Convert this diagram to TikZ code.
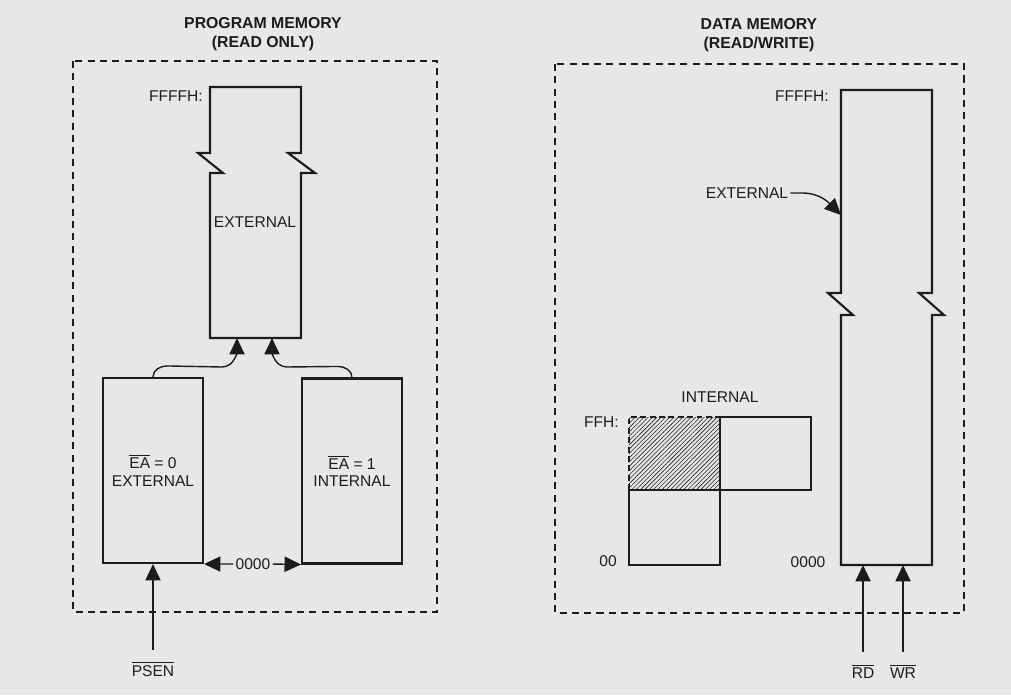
\documentclass[tikz,border=0pt]{standalone}
\usepackage{amsmath}
\usepackage{fontspec}
\setmainfont{Liberation Sans}
\usetikzlibrary{arrows.meta}
\usetikzlibrary{patterns.meta}
\usetikzlibrary{positioning}
\definecolor{paper}{RGB}{231,231,229}
\definecolor{ink}{RGB}{28,28,28}

\begin{document}
\begin{tikzpicture}[x=0.03cm, y=-0.03cm, line width=1.8pt, color=ink,
    every node/.style={font=\fontsize{13.3}{15}\selectfont, inner sep=1pt},
    title/.style={font=\bfseries\fontsize{13.5}{16}\selectfont, align=center},
    frame/.style={line width=1.2pt, dash pattern=on 6pt off 4.5pt},
    arr/.style={-{Triangle[length=14pt,width=13pt]}, line width=1.2pt},
    membox/.style={draw, line width=1.8pt, minimum width=3cm, minimum height=5.55cm, align=center}]
    \fill[paper] (0,0) rectangle (1011,695);
    \useasboundingbox (0,0) rectangle (1011,695);

    % program memory
    \node[title] (ptitle) at (263,34) {PROGRAM MEMORY\\(READ ONLY)};
    \draw[frame] (73,61) rectangle (437,612);
    \draw (210,87) -- (210,153) -- (198,153) -- (223,173) -- (210,173) -- (210,338)
        -- (301,338) -- (301,173) -- (315,173) -- (288,153) -- (301,153) -- (301,87) -- cycle;
    \node[anchor=east] (pff) at (205,96) {FFFFH:};
    \node (pext) at (255,222) {EXTERNAL};
    \coordinate (pinA) at (237,338);
    \coordinate (pinB) at (272,338);
    \node[membox] (extlo) at (153,470.5) {$\overline{\mbox{EA}}$ = 0\\EXTERNAL};
    \node[membox] (intlo) at (352,471) {$\overline{\mbox{EA}}$ = 1\\INTERNAL};
    \draw[arr] (extlo.north) to[out=90,in=180] ++(14,-11) -- (222,367) to[out=0,in=-90] (pinA);
    \draw[arr] (intlo.north) to[out=90,in=0] ++(-14,-11) -- (287,367) to[out=180,in=-90] (pinB);
    \node (pzero) at (253,564) {0000};
    \draw[arr] (pzero.west) -- (extlo.south east);
    \draw[arr] (pzero.east) -- (intlo.south west);
    \node (psen) at (153,669) {$\overline{\mbox{PSEN}}$};
    \draw[arr] ([yshift=0.3cm]psen.north) -- (extlo.south);

    % data memory
    \node[title] (dtitle) at (759,35) {DATA MEMORY\\(READ/WRITE)};
    \draw[frame] (555,64) rectangle (964,613);
    \draw (841,90) -- (841,293) -- (828,293) -- (853,315) -- (841,315) -- (841,565)
        -- (932,565) -- (932,315) -- (944,315) -- (919,293) -- (932,293) -- (932,90) -- cycle;
    \node[anchor=east] (dff) at (831,96) {FFFFH:};
    \node (dext) at (747,193) {EXTERNAL};
    \coordinate (dpin) at (841,215);
    \draw[arr] (dext.east) -- ++(12,0) to[out=0,in=135] (dpin);
    \node (dzero) at (808,562) {0000};
    \coordinate (rdpin) at (863,565);
    \coordinate (wrpin) at (903,565);
    \node (rd) at (863,671) {$\overline{\mbox{RD}}$};
    \node (wr) at (903,671) {$\overline{\mbox{WR}}$};
    \draw[arr] ([yshift=0.3cm]rd.north) -- (rdpin);
    \draw[arr] ([yshift=0.3cm]wr.north) -- (wrpin);

    % internal data ram
    \node (dint) at (720,397) {INTERNAL};
    \node[anchor=east] (dffh) at (621,422) {FFH:};
    \node (dzz) at (608,561) {00};
    \fill[pattern={Lines[angle=45,distance=2.6pt,line width=0.5pt]}, pattern color=ink]
        (629,417) rectangle (720,490);
    \draw[dash pattern=on 5pt off 3pt] (629,490) -- (629,417) -- (720,417);
    \draw (720,417) -- (811,417) -- (811,490) -- (629,490);
    \draw (720,417) -- (720,565) -- (629,565) -- (629,490);
\end{tikzpicture}
\end{document}
